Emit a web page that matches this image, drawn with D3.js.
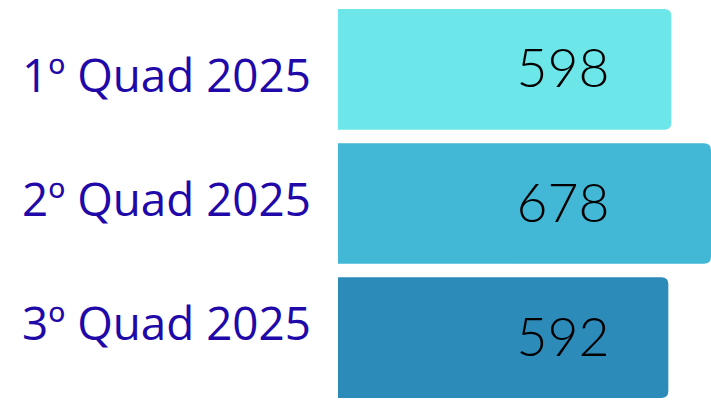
<!DOCTYPE html>
<html><head><meta charset="utf-8">
<script src="https://cdn.jsdelivr.net/npm/d3@7/dist/d3.min.js"></script>
<style>html,body{margin:0;padding:0;background:#fff;overflow:hidden}</style>
</head><body>
<svg id="c" width="711" height="400"></svg>
<script>
const categories = ["1º Quad 2025", "2º Quad 2025", "3º Quad 2025"];
const values = [598, 678, 592];
const colors = ["#6ce6e8", "#42b7d6", "#2d8bba"];

const svg = d3.select("#c");
const x0 = 338;

const x = d3.scaleLinear().domain([-74, 678]).range([x0, 711]);
const y = d3.scaleBand().domain(categories).range([9, 398]).paddingInner(0.1).paddingOuter(0);
const yl = d3.scalePoint().domain(categories).range([92, 340]);

const r = 7;
function barPath(x1, x2, y1, h) {
  return `M${x1},${y1}H${x2 - r}Q${x2},${y1} ${x2},${y1 + r}V${y1 + h - r}Q${x2},${y1 + h} ${x2 - r},${y1 + h}H${x1}Z`;
}

const data = categories.map((c, i) => ({c, v: values[i], col: colors[i]}));

svg.selectAll("path.bar").data(data).join("path")
  .attr("class", "bar")
  .attr("d", d => barPath(x(-74), x(d.v), y(d.c), y.bandwidth()))
  .attr("fill", d => d.col);

const labs = svg.selectAll("text.lab").data(data).join("text")
  .attr("class", "lab")
  .attr("x", 22)
  .attr("y", d => yl(d.c))
  .attr("font-family", "'Open Sans', Lato, sans-serif")
  .attr("font-size", 40)
  .attr("fill", "#2108a8")
  .text(d => d.c);

const w2 = labs.nodes()[1].getComputedTextLength();
labs.attr("font-size", 40 * 289 / w2);

const vals = svg.selectAll("text.val").data(data).join("text")
  .attr("class", "val")
  .attr("x", 563)
  .attr("y", d => y(d.c) + y.bandwidth() / 2 + 18)
  .attr("text-anchor", "middle")
  .attr("font-family", "Lato, 'Open Sans', sans-serif")
  .attr("font-weight", 300)
  .attr("font-size", 52)
  .attr("fill", "#000")
  .text(d => d.v);
const wv = vals.node().getComputedTextLength();
vals.attr("font-size", 52 * 93 / wv);
</script>
</body></html>
